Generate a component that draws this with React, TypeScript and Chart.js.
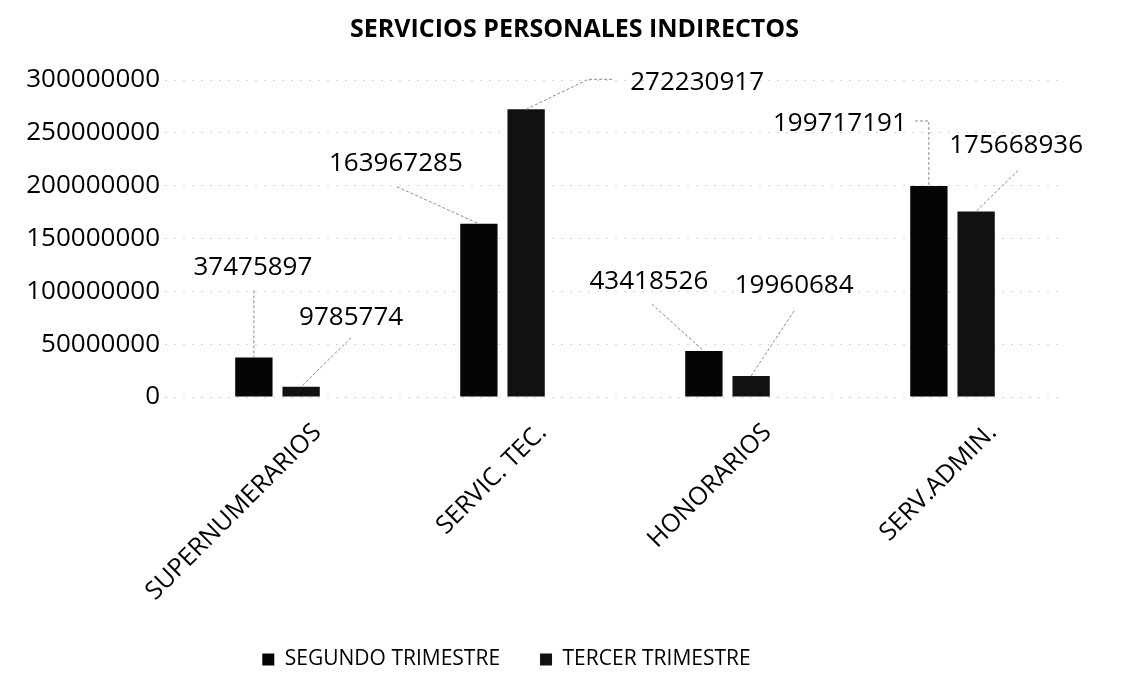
import React, { useEffect, useRef } from "react";
import { Chart, registerables } from "chart.js";

Chart.register(...registerables);

const TITLE = "SERVICIOS PERSONALES INDIRECTOS";
const categories = ["SUPERNUMERARIOS", "SERVIC. TEC.", "HONORARIOS", "SERV.ADMIN."];
const seriesNames = ["SEGUNDO TRIMESTRE", "TERCER TRIMESTRE"];
const segundoTrimestre = [37475897, 163967285, 43418526, 199717191];
const tercerTrimestre = [9785774, 272230917, 19960684, 175668936];
const yMin = 0;
const yMax = 300000000;
const yStep = 50000000;

// label placement relative to the top centre of each bar (pixels)
const labelOffsets: number[][][] = [
  [[-1, -90], [-83, -60], [-55, -70], [-89, -62]],
  [[50, -69], [171, -27], [43, -90], [40, -66]],
];
// leader line polylines relative to the top centre of each bar, ending at the bar
const leaderLines: number[][][][] = [
  [[[0, -67], [0, 0]], [[-82, -37], [0, 0]], [[-52, -47], [0, 0]], [[-14, -65], [0, -65], [0, 0]]],
  [[[50, -49], [0, 0]], [[86, -30], [62, -30], [0, 0]], [[43, -65], [0, 0]], [[42, -41], [0, 0]]],
];

const FONT = "'Open Sans', 'Liberation Sans', sans-serif";

const dataLabelPlugin = {
  id: "leaderLabels",
  afterDatasetsDraw(chart: any) {
    const ctx = chart.ctx;
    ctx.save();
    chart.data.datasets.forEach((ds: any, di: number) => {
      const meta = chart.getDatasetMeta(di);
      meta.data.forEach((el: any, i: number) => {
        const { x, y } = el;
        const pts = leaderLines[di][i];
        ctx.beginPath();
        ctx.strokeStyle = "#888";
        ctx.lineWidth = 1;
        ctx.setLineDash([3, 2]);
        pts.forEach((p: number[], k: number) => {
          if (k === 0) ctx.moveTo(x + p[0], y + p[1]);
          else ctx.lineTo(x + p[0], y + p[1]);
        });
        ctx.stroke();
        ctx.setLineDash([]);
        const off = labelOffsets[di][i];
        ctx.fillStyle = "#000";
        ctx.font = `26px ${FONT}`;
        ctx.textAlign = "center";
        ctx.textBaseline = "middle";
        ctx.fillText(String(ds.data[i]), x + off[0], y + off[1]);
      });
    });
    ctx.restore();
  },
};

const boxShiftPlugin = {
  id: "boxShift",
  afterLayout(chart: any) {
    const lg = chart.legend;
    if (lg) {
      lg.left += -26;
      lg.right += -26;
      lg.top += -17;
      lg.bottom += -17;
    }
    const tb = chart.titleBlock;
    if (tb) {
      tb.left += 42;
      tb.right += 42;
    }
  },
};

export default function App() {
  const ref = useRef<HTMLCanvasElement | null>(null);
  useEffect(() => {
    if (!ref.current) return;
    const chart = new Chart(ref.current, {
      type: "bar",
      data: {
        labels: categories,
        datasets: [
          {
            label: seriesNames[0],
            data: segundoTrimestre,
            backgroundColor: "#050505",
            borderWidth: 0,
            categoryPercentage: 0.42,
            barPercentage: 0.79,
          },
          {
            label: seriesNames[1],
            data: tercerTrimestre,
            backgroundColor: "#111111",
            borderWidth: 0,
            categoryPercentage: 0.42,
            barPercentage: 0.79,
          },
        ],
      },
      options: {
        animation: false,
        responsive: false,
        layout: { padding: { left: 0, right: 57, top: 0, bottom: 0 } },
        plugins: {
          title: {
            display: true,
            text: TITLE,
            color: "#000",
            font: { family: FONT, size: 25, weight: "bold" },
            padding: { top: 15, bottom: 35 },
          },
          legend: {
            position: "bottom",
            labels: {
              color: "#000",
              font: { family: FONT, size: 21 },
              boxWidth: 12,
              boxHeight: 12,
              padding: 40,
            },
          },
          tooltip: { enabled: false },
        },
        scales: {
          x: {
            grid: { display: false },
            border: { display: false },
            ticks: {
              color: "#000",
              font: { family: FONT, size: 25 },
              maxRotation: 45,
              minRotation: 45,
              labelOffset: 40,
              padding: 13,
            },
            afterFit: (s: any) => {
              s.height = 229;
            },
          },
          y: {
            min: yMin,
            max: yMax,
            grid: { color: "rgba(0,0,0,0.16)", drawTicks: false },
            border: { display: false, dash: [2, 7] },
            ticks: {
              stepSize: yStep,
              color: "#000",
              font: { family: FONT, size: 26 },
              padding: 5,
              callback: (v: any) => String(v),
            },
            afterFit: (s: any) => {
              s.width = 165;
            },
          },
        },
      },
      plugins: [dataLabelPlugin, boxShiftPlugin],
    });
    return () => chart.destroy();
  }, []);
  return (
    <div style={{ position: "absolute", left: 0, top: 0, width: 1122, height: 697, background: "#fff" }}>
      <canvas ref={ref} width={1122} height={697} />
    </div>
  );
}
